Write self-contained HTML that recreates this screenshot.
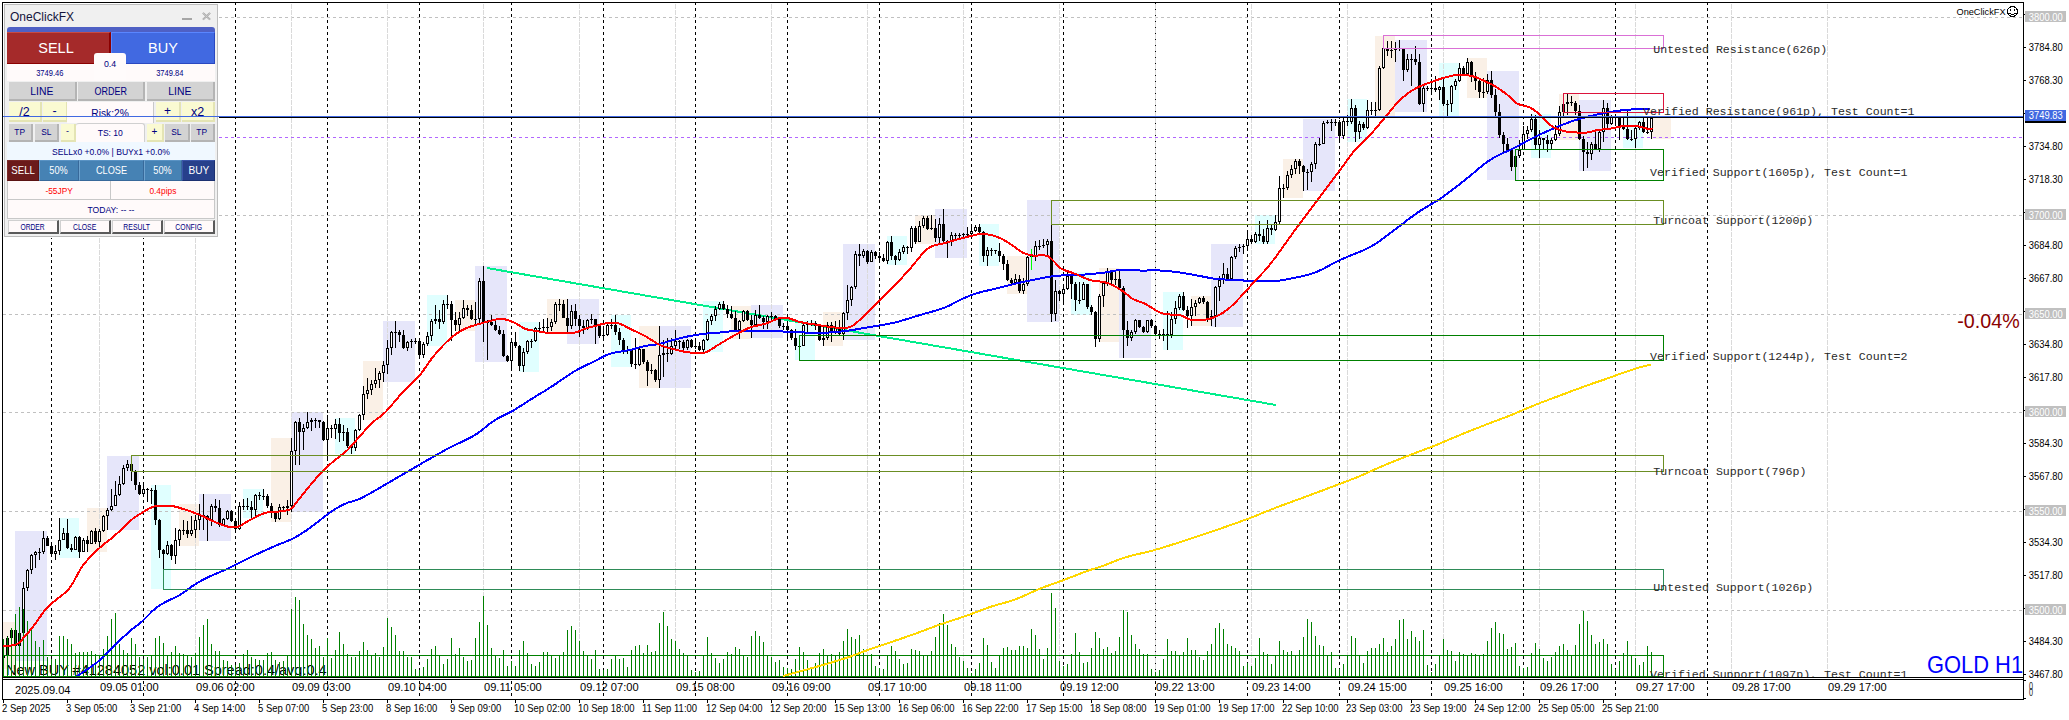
<!DOCTYPE html>
<html><head><meta charset="utf-8"><title>GOLD H1</title>
<style>
html,body{margin:0;padding:0;background:#fff;}
body{width:2069px;height:720px;overflow:hidden;position:relative;font-family:"Liberation Sans",sans-serif;}
svg{position:absolute;left:0;top:0;}
.ax{font-family:"Liberation Sans",sans-serif;font-size:10px;}
.dt{font-family:"Liberation Sans",sans-serif;}
#pn{position:absolute;left:4px;top:4px;width:212px;height:231px;background:#f0f0f0;border:1px solid #bdbdbd;box-shadow:0 0 0 1px #fff;}
#pn div{position:absolute;box-sizing:border-box;text-align:center;white-space:nowrap;overflow:hidden;}
#pn .t{left:5px;top:5px;font-size:12px;color:#14143c;text-align:left;line-height:14px;}
#pn .g{background:#d3d3d3;border-right:2px solid #b4b4b4;border-bottom:2px solid #b4b4b4;color:#000080;}
#pn .y{background:#fafad2;border-right:2px solid #e4e4b4;border-bottom:2px solid #e4e4b4;color:#000080;}
#pn .s{background:#fffafa;color:#000080;}
#pn .b{background:#4682b4;color:#fff;border-left:1px solid #6ea3cf;border-top:1px solid #5a93c4;border-right:1px solid #38699a;border-bottom:1px solid #38699a;font-size:11.5px;line-height:19px;}
#pn .w{background:#fffafa;color:#000080;border-right:2px solid #5a5a5a;border-bottom:2px solid #5a5a5a;border-left:1px solid #d0d0d0;border-top:1px solid #d0d0d0;font-size:8.6px;line-height:13px;}
#pn span{display:inline-block;transform:scaleX(var(--s,1));}

</style></head><body>
<svg width="2069" height="720" viewBox="0 0 2069 720" shape-rendering="crispEdges">
<defs><clipPath id="cp"><rect x="3" y="3" width="2020" height="674"/></clipPath></defs>
<g clip-path="url(#cp)">
<rect x="3" y="622" width="12" height="47" fill="#faf0e6"/>
<rect x="15" y="531" width="32" height="130" fill="#e6e6fa"/>
<rect x="59" y="518" width="20" height="40" fill="#e0ffff"/>
<rect x="87" y="508" width="20" height="44" fill="#faf0e6"/>
<rect x="107" y="456" width="32" height="74" fill="#e6e6fa"/>
<rect x="151" y="485" width="20" height="104" fill="#e0ffff"/>
<rect x="179" y="504" width="20" height="42" fill="#faf0e6"/>
<rect x="199" y="494" width="32" height="47" fill="#e6e6fa"/>
<rect x="243" y="489" width="20" height="29" fill="#e0ffff"/>
<rect x="271" y="438" width="20" height="84" fill="#faf0e6"/>
<rect x="291" y="412" width="32" height="100" fill="#e6e6fa"/>
<rect x="335" y="418" width="20" height="36" fill="#e0ffff"/>
<rect x="363" y="361" width="20" height="59" fill="#faf0e6"/>
<rect x="383" y="321" width="32" height="61" fill="#e6e6fa"/>
<rect x="427" y="295" width="20" height="51" fill="#e0ffff"/>
<rect x="455" y="300" width="20" height="31" fill="#faf0e6"/>
<rect x="475" y="266" width="32" height="96" fill="#e6e6fa"/>
<rect x="519" y="322" width="20" height="50" fill="#e0ffff"/>
<rect x="547" y="299" width="20" height="33" fill="#faf0e6"/>
<rect x="567" y="299" width="32" height="45" fill="#e6e6fa"/>
<rect x="611" y="315" width="20" height="52" fill="#e0ffff"/>
<rect x="639" y="326" width="20" height="62" fill="#faf0e6"/>
<rect x="659" y="326" width="32" height="62" fill="#e6e6fa"/>
<rect x="703" y="301" width="20" height="51" fill="#e0ffff"/>
<rect x="731" y="306" width="20" height="33" fill="#faf0e6"/>
<rect x="751" y="305" width="32" height="33" fill="#e6e6fa"/>
<rect x="795" y="320" width="20" height="40" fill="#e0ffff"/>
<rect x="823" y="312" width="20" height="34" fill="#faf0e6"/>
<rect x="843" y="244" width="32" height="96" fill="#e6e6fa"/>
<rect x="887" y="236" width="20" height="29" fill="#e0ffff"/>
<rect x="915" y="215" width="20" height="29" fill="#faf0e6"/>
<rect x="935" y="209" width="32" height="49" fill="#e6e6fa"/>
<rect x="979" y="224" width="20" height="42" fill="#e0ffff"/>
<rect x="1007" y="256" width="20" height="38" fill="#faf0e6"/>
<rect x="1027" y="200" width="32" height="122" fill="#e6e6fa"/>
<rect x="1071" y="272" width="20" height="43" fill="#e0ffff"/>
<rect x="1099" y="268" width="20" height="74" fill="#faf0e6"/>
<rect x="1119" y="270" width="32" height="88" fill="#e6e6fa"/>
<rect x="1163" y="292" width="20" height="58" fill="#e0ffff"/>
<rect x="1191" y="296" width="20" height="30" fill="#faf0e6"/>
<rect x="1211" y="244" width="32" height="83" fill="#e6e6fa"/>
<rect x="1255" y="215" width="20" height="29" fill="#e0ffff"/>
<rect x="1283" y="159" width="20" height="39" fill="#faf0e6"/>
<rect x="1303" y="119" width="32" height="72" fill="#e6e6fa"/>
<rect x="1347" y="99" width="20" height="43" fill="#e0ffff"/>
<rect x="1375" y="36" width="20" height="82" fill="#faf0e6"/>
<rect x="1395" y="40" width="32" height="72" fill="#e6e6fa"/>
<rect x="1439" y="63" width="20" height="53" fill="#e0ffff"/>
<rect x="1467" y="58" width="20" height="40" fill="#faf0e6"/>
<rect x="1487" y="71" width="32" height="109" fill="#e6e6fa"/>
<rect x="1531" y="114" width="20" height="44" fill="#e0ffff"/>
<rect x="1559" y="94" width="20" height="46" fill="#faf0e6"/>
<rect x="1579" y="100" width="32" height="71" fill="#e6e6fa"/>
<rect x="1623" y="110" width="20" height="38" fill="#e0ffff"/>
<rect x="1651" y="116" width="20" height="23" fill="#faf0e6"/>
<path d="M3 17.5H2023M3 215.5H2023M3 314.5H2023M3 412.5H2023M3 511.5H2023M3 610.5H2023" stroke="#c0c0c0" stroke-width="1" stroke-dasharray="3 3" fill="none"/>
<path d="M51.5 2V677M143.5 2V677M235.5 2V677M327.5 2V677M419.5 2V677M511.5 2V677M603.5 2V677M695.5 2V677M787.5 2V677M879.5 2V677M971.5 2V677M1063.5 2V677M1155.5 2V677M1247.5 2V677M1339.5 2V677M1431.5 2V677M1523.5 2V677M1615.5 2V677M1707.5 2V677" stroke="#000" stroke-width="1" stroke-dasharray="3 3" fill="none"/>
<path d="M99.5 3V677M195.5 3V677M291.5 3V677M387.5 3V677M483.5 3V677M579.5 3V677M675.5 3V677M771.5 3V677M867.5 3V677M963.5 3V677M1059.5 3V677M1155.5 3V677M1251.5 3V677M1347.5 3V677M1443.5 3V677M1539.5 3V677M1635.5 3V677M1731.5 3V677M1827.5 3V677" stroke="#dadada" stroke-width="1" stroke-dasharray="5 1" stroke-dashoffset="5" fill="none"/>
<path d="M219 137.5H2023" stroke="#b266ff" stroke-width="1" stroke-dasharray="3 3" fill="none"/>
<text x="6" y="674.5" font-family="Liberation Sans, sans-serif" font-size="14.5" fill="#000">New BUY #41284052 vol:0.01 Spread:0.4/avg:0.4</text>
<line x1="487" y1="268" x2="1276" y2="405" stroke="#00ee8c" stroke-width="2"/>
<path d="M3 650h1V669h-1zM2 655h3V658h-3zM7 636h1V657h-1zM6 638h3V655h-3zM11 628h1V639h-1zM10 630h3V638h-3zM15 622h1V661h-1zM14 630h3V646h-3zM19 632h1V648h-1zM18 633h3V646h-3zM23 582h1V633h-1zM22 588h3V633h-3zM27 569h1V591h-1zM26 570h3V588h-3zM31 554h1V574h-1zM30 555h3V570h-3zM35 551h1V568h-1zM34 552h3V555h-3zM39 548h1V560h-1zM38 552h3V553h-3zM43 531h1V554h-1zM42 538h3V552h-3zM47 536h1V546h-1zM46 538h3V546h-3zM51 545h1V555h-1zM50 546h3V554h-3zM55 545h1V560h-1zM54 551h3V554h-3zM59 518h1V555h-1zM58 540h3V551h-3zM63 528h1V540h-1zM62 533h3V540h-3zM67 519h1V549h-1zM66 533h3V548h-3zM71 544h1V552h-1zM70 548h3V550h-3zM75 536h1V550h-1zM74 537h3V550h-3zM79 536h1V558h-1zM78 537h3V552h-3zM83 538h1V552h-1zM82 540h3V552h-3zM87 536h1V552h-1zM86 540h3V544h-3zM91 530h1V544h-1zM90 531h3V544h-3zM95 528h1V544h-1zM94 531h3V542h-3zM99 529h1V547h-1zM98 531h3V542h-3zM103 515h1V532h-1zM102 516h3V531h-3zM107 508h1V530h-1zM106 510h3V516h-3zM111 489h1V511h-1zM110 506h3V510h-3zM115 481h1V506h-1zM114 495h3V506h-3zM119 476h1V496h-1zM118 484h3V495h-3zM123 465h1V485h-1zM122 468h3V484h-3zM127 460h1V471h-1zM126 464h3V468h-3zM131 456h1V481h-1zM130 464h3V471h-3zM135 470h1V490h-1zM134 471h3V485h-3zM139 482h1V495h-1zM138 485h3V494h-3zM143 482h1V495h-1zM142 489h3V494h-3zM147 488h1V502h-1zM146 489h3V490h-3zM151 488h1V504h-1zM150 490h3V491h-3zM155 485h1V525h-1zM154 490h3V520h-3zM159 519h1V558h-1zM158 520h3V550h-3zM163 549h1V589h-1zM162 550h3V554h-3zM167 541h1V555h-1zM166 545h3V554h-3zM171 544h1V560h-1zM170 545h3V556h-3zM175 528h1V564h-1zM174 540h3V556h-3zM179 529h1V546h-1zM178 530h3V540h-3zM183 520h1V535h-1zM182 530h3V531h-3zM187 521h1V538h-1zM186 530h3V534h-3zM191 516h1V536h-1zM190 530h3V534h-3zM195 515h1V538h-1zM194 520h3V530h-3zM199 504h1V530h-1zM198 515h3V520h-3zM203 494h1V530h-1zM202 515h3V516h-3zM207 515h1V541h-1zM206 516h3V520h-3zM211 504h1V526h-1zM210 506h3V520h-3zM215 499h1V512h-1zM214 506h3V508h-3zM219 500h1V527h-1zM218 508h3V525h-3zM223 518h1V526h-1zM222 519h3V525h-3zM227 510h1V520h-1zM226 511h3V519h-3zM231 510h1V522h-1zM230 511h3V521h-3zM235 518h1V532h-1zM234 521h3V529h-3zM239 502h1V530h-1zM238 506h3V529h-3zM243 499h1V510h-1zM242 506h3V507h-3zM247 498h1V510h-1zM246 506h3V507h-3zM251 501h1V518h-1zM250 507h3V510h-3zM255 494h1V516h-1zM254 495h3V510h-3zM259 492h1V500h-1zM258 495h3V496h-3zM263 489h1V500h-1zM262 496h3V497h-3zM267 494h1V508h-1zM266 496h3V506h-3zM271 503h1V518h-1zM270 506h3V513h-3zM275 512h1V522h-1zM274 513h3V519h-3zM279 504h1V520h-1zM278 507h3V519h-3zM283 506h1V510h-1zM282 507h3V508h-3zM287 500h1V515h-1zM286 506h3V508h-3zM291 438h1V512h-1zM290 451h3V506h-3zM295 421h1V465h-1zM294 422h3V451h-3zM299 418h1V465h-1zM298 422h3V432h-3zM303 424h1V450h-1zM302 428h3V432h-3zM307 412h1V429h-1zM306 422h3V428h-3zM311 418h1V431h-1zM310 420h3V422h-3zM315 418h1V428h-1zM314 420h3V421h-3zM319 420h1V428h-1zM318 420h3V422h-3zM323 421h1V441h-1zM322 422h3V440h-3zM327 415h1V460h-1zM326 428h3V440h-3zM331 425h1V438h-1zM330 428h3V429h-3zM335 419h1V439h-1zM334 424h3V429h-3zM339 418h1V442h-1zM338 424h3V433h-3zM343 425h1V441h-1zM342 432h3V433h-3zM347 428h1V448h-1zM346 432h3V446h-3zM351 444h1V454h-1zM350 446h3V448h-3zM355 429h1V451h-1zM354 430h3V448h-3zM359 414h1V431h-1zM358 415h3V430h-3zM363 386h1V420h-1zM362 394h3V415h-3zM367 378h1V399h-1zM366 390h3V394h-3zM371 380h1V395h-1zM370 384h3V390h-3zM375 368h1V388h-1zM374 380h3V384h-3zM379 371h1V388h-1zM378 373h3V380h-3zM383 361h1V382h-1zM382 365h3V373h-3zM387 340h1V374h-1zM386 348h3V365h-3zM391 331h1V355h-1zM390 332h3V348h-3zM395 321h1V348h-1zM394 332h3V333h-3zM399 330h1V342h-1zM398 332h3V335h-3zM403 330h1V349h-1zM402 335h3V348h-3zM407 341h1V351h-1zM406 342h3V348h-3zM411 339h1V348h-1zM410 341h3V342h-3zM415 338h1V344h-1zM414 341h3V342h-3zM419 340h1V359h-1zM418 341h3V355h-3zM423 342h1V358h-1zM422 344h3V355h-3zM427 332h1V346h-1zM426 336h3V344h-3zM431 319h1V341h-1zM430 321h3V336h-3zM435 305h1V324h-1zM434 319h3V321h-3zM439 310h1V329h-1zM438 319h3V322h-3zM443 300h1V324h-1zM442 304h3V322h-3zM447 295h1V309h-1zM446 304h3V305h-3zM451 301h1V341h-1zM450 304h3V320h-3zM455 312h1V331h-1zM454 320h3V325h-3zM459 312h1V331h-1zM458 318h3V325h-3zM463 300h1V319h-1zM462 308h3V318h-3zM467 305h1V316h-1zM466 308h3V310h-3zM471 305h1V320h-1zM470 310h3V319h-3zM475 302h1V324h-1zM474 319h3V320h-3zM479 278h1V324h-1zM478 281h3V319h-3zM483 266h1V342h-1zM482 281h3V322h-3zM487 320h1V360h-1zM486 322h3V323h-3zM491 315h1V326h-1zM490 322h3V325h-3zM495 321h1V331h-1zM494 325h3V330h-3zM499 326h1V335h-1zM498 330h3V334h-3zM503 330h1V357h-1zM502 334h3V356h-3zM507 355h1V362h-1zM506 356h3V361h-3zM511 341h1V370h-1zM510 342h3V361h-3zM515 332h1V348h-1zM514 342h3V346h-3zM519 345h1V371h-1zM518 346h3V366h-3zM523 348h1V372h-1zM522 352h3V366h-3zM527 340h1V354h-1zM526 341h3V352h-3zM531 339h1V348h-1zM530 341h3V342h-3zM535 327h1V342h-1zM534 328h3V341h-3zM539 322h1V331h-1zM538 328h3V329h-3zM543 319h1V332h-1zM542 327h3V328h-3zM547 318h1V332h-1zM546 327h3V328h-3zM551 319h1V331h-1zM550 322h3V327h-3zM555 302h1V324h-1zM554 304h3V322h-3zM559 299h1V311h-1zM558 304h3V305h-3zM563 300h1V318h-1zM562 304h3V318h-3zM567 299h1V332h-1zM566 318h3V326h-3zM571 305h1V329h-1zM570 311h3V326h-3zM575 304h1V326h-1zM574 311h3V319h-3zM579 315h1V337h-1zM578 319h3V326h-3zM583 320h1V334h-1zM582 326h3V328h-3zM587 319h1V330h-1zM586 320h3V328h-3zM591 314h1V324h-1zM590 319h3V320h-3zM595 319h1V344h-1zM594 319h3V326h-3zM599 325h1V338h-1zM598 326h3V336h-3zM603 329h1V340h-1zM602 335h3V336h-3zM607 324h1V336h-1zM606 325h3V335h-3zM611 319h1V329h-1zM610 325h3V326h-3zM615 315h1V335h-1zM614 325h3V332h-3zM619 328h1V345h-1zM618 332h3V340h-3zM623 338h1V354h-1zM622 340h3V350h-3zM627 346h1V354h-1zM626 350h3V351h-3zM631 350h1V367h-1zM630 350h3V364h-3zM635 338h1V369h-1zM634 364h3V365h-3zM639 348h1V366h-1zM638 349h3V365h-3zM643 349h1V364h-1zM642 349h3V362h-3zM647 360h1V386h-1zM646 362h3V371h-3zM651 364h1V374h-1zM650 370h3V371h-3zM655 369h1V382h-1zM654 370h3V380h-3zM659 326h1V388h-1zM658 355h3V380h-3zM663 340h1V377h-1zM662 353h3V355h-3zM667 338h1V362h-1zM666 353h3V354h-3zM671 338h1V355h-1zM670 346h3V354h-3zM675 330h1V349h-1zM674 341h3V346h-3zM679 340h1V349h-1zM678 341h3V342h-3zM683 340h1V350h-1zM682 342h3V348h-3zM687 339h1V350h-1zM686 340h3V348h-3zM691 339h1V348h-1zM690 340h3V347h-3zM695 341h1V349h-1zM694 346h3V347h-3zM699 342h1V351h-1zM698 346h3V350h-3zM703 339h1V352h-1zM702 340h3V350h-3zM707 319h1V341h-1zM706 321h3V340h-3zM711 314h1V325h-1zM710 316h3V321h-3zM715 306h1V321h-1zM714 309h3V316h-3zM719 302h1V310h-1zM718 304h3V309h-3zM723 301h1V310h-1zM722 304h3V309h-3zM727 305h1V318h-1zM726 309h3V314h-3zM731 306h1V319h-1zM730 314h3V318h-3zM735 311h1V332h-1zM734 318h3V330h-3zM739 320h1V339h-1zM738 321h3V330h-3zM743 310h1V322h-1zM742 311h3V321h-3zM747 310h1V321h-1zM746 311h3V320h-3zM751 315h1V338h-1zM750 320h3V325h-3zM755 310h1V326h-1zM754 315h3V325h-3zM759 305h1V319h-1zM758 315h3V318h-3zM763 316h1V329h-1zM762 318h3V322h-3zM767 315h1V329h-1zM766 316h3V322h-3zM771 312h1V320h-1zM770 316h3V317h-3zM775 315h1V320h-1zM774 316h3V319h-3zM779 318h1V328h-1zM778 319h3V326h-3zM783 323h1V330h-1zM782 326h3V327h-3zM787 322h1V341h-1zM786 326h3V330h-3zM791 329h1V340h-1zM790 330h3V338h-3zM795 329h1V350h-1zM794 338h3V346h-3zM799 342h1V360h-1zM798 346h3V347h-3zM803 322h1V346h-1zM802 325h3V346h-3zM807 321h1V332h-1zM806 324h3V325h-3zM811 320h1V326h-1zM810 323h3V324h-3zM815 321h1V330h-1zM814 323h3V326h-3zM819 325h1V341h-1zM818 326h3V340h-3zM823 325h1V346h-1zM822 338h3V340h-3zM827 322h1V340h-1zM826 325h3V338h-3zM831 322h1V342h-1zM830 325h3V332h-3zM835 321h1V334h-1zM834 327h3V332h-3zM839 320h1V335h-1zM838 327h3V334h-3zM843 312h1V340h-1zM842 313h3V334h-3zM847 285h1V320h-1zM846 300h3V313h-3zM851 286h1V306h-1zM850 287h3V300h-3zM855 251h1V289h-1zM854 254h3V287h-3zM859 244h1V266h-1zM858 254h3V256h-3zM863 249h1V258h-1zM862 251h3V256h-3zM867 250h1V264h-1zM866 251h3V262h-3zM871 250h1V262h-1zM870 252h3V262h-3zM875 251h1V259h-1zM874 252h3V256h-3zM879 252h1V260h-1zM878 256h3V258h-3zM883 254h1V262h-1zM882 258h3V261h-3zM887 241h1V264h-1zM886 242h3V261h-3zM891 236h1V260h-1zM890 242h3V256h-3zM895 255h1V265h-1zM894 256h3V260h-3zM899 249h1V261h-1zM898 252h3V260h-3zM903 245h1V254h-1zM902 247h3V252h-3zM907 246h1V254h-1zM906 247h3V248h-3zM911 226h1V252h-1zM910 228h3V248h-3zM915 226h1V244h-1zM914 228h3V242h-3zM919 221h1V242h-1zM918 226h3V242h-3zM923 216h1V228h-1zM922 218h3V226h-3zM927 216h1V230h-1zM926 218h3V229h-3zM931 215h1V230h-1zM930 228h3V229h-3zM935 219h1V242h-1zM934 228h3V238h-3zM939 218h1V244h-1zM938 224h3V238h-3zM943 209h1V243h-1zM942 224h3V241h-3zM947 240h1V258h-1zM946 241h3V242h-3zM951 232h1V246h-1zM950 235h3V241h-3zM955 233h1V240h-1zM954 235h3V236h-3zM959 233h1V240h-1zM958 235h3V236h-3zM963 233h1V238h-1zM962 234h3V235h-3zM967 227h1V238h-1zM966 234h3V235h-3zM971 225h1V236h-1zM970 231h3V234h-3zM975 225h1V232h-1zM974 227h3V231h-3zM979 224h1V234h-1zM978 227h3V232h-3zM983 231h1V262h-1zM982 232h3V256h-3zM987 247h1V266h-1zM986 250h3V256h-3zM991 248h1V256h-1zM990 250h3V251h-3zM995 250h1V254h-1zM994 250h3V251h-3zM999 243h1V262h-1zM998 251h3V256h-3zM1003 254h1V270h-1zM1002 256h3V264h-3zM1007 260h1V281h-1zM1006 264h3V280h-3zM1011 278h1V286h-1zM1010 280h3V283h-3zM1015 274h1V285h-1zM1014 279h3V283h-3zM1019 275h1V293h-1zM1018 279h3V291h-3zM1023 278h1V294h-1zM1022 284h3V291h-3zM1027 256h1V286h-1zM1026 257h3V284h-3zM1031 249h1V270h-1zM1030 256h3V257h-3zM1035 241h1V261h-1zM1034 246h3V256h-3zM1039 240h1V250h-1zM1038 246h3V247h-3zM1043 239h1V248h-1zM1042 245h3V246h-3zM1047 239h1V255h-1zM1046 241h3V245h-3zM1051 200h1V322h-1zM1050 241h3V314h-3zM1055 280h1V321h-1zM1054 291h3V314h-3zM1059 290h1V301h-1zM1058 291h3V294h-3zM1063 284h1V302h-1zM1062 289h3V294h-3zM1067 271h1V290h-1zM1066 276h3V289h-3zM1071 272h1V299h-1zM1070 276h3V284h-3zM1075 282h1V311h-1zM1074 284h3V300h-3zM1079 282h1V304h-1zM1078 300h3V301h-3zM1083 282h1V300h-1zM1082 284h3V300h-3zM1087 284h1V309h-1zM1086 284h3V307h-3zM1091 305h1V315h-1zM1090 307h3V312h-3zM1095 311h1V347h-1zM1094 312h3V339h-3zM1099 294h1V342h-1zM1098 296h3V339h-3zM1103 281h1V307h-1zM1102 283h3V296h-3zM1107 268h1V286h-1zM1106 271h3V283h-3zM1111 270h1V284h-1zM1110 271h3V280h-3zM1115 271h1V285h-1zM1114 279h3V280h-3zM1119 270h1V289h-1zM1118 279h3V288h-3zM1123 286h1V358h-1zM1122 288h3V330h-3zM1127 321h1V346h-1zM1126 330h3V338h-3zM1131 330h1V341h-1zM1130 332h3V338h-3zM1135 319h1V334h-1zM1134 320h3V332h-3zM1139 320h1V328h-1zM1138 320h3V327h-3zM1143 326h1V333h-1zM1142 327h3V332h-3zM1147 320h1V333h-1zM1146 320h3V332h-3zM1151 319h1V328h-1zM1150 320h3V326h-3zM1155 325h1V335h-1zM1154 326h3V334h-3zM1159 330h1V339h-1zM1158 334h3V335h-3zM1163 329h1V341h-1zM1162 334h3V335h-3zM1167 311h1V350h-1zM1166 334h3V335h-3zM1171 312h1V338h-1zM1170 319h3V335h-3zM1175 301h1V324h-1zM1174 308h3V319h-3zM1179 294h1V310h-1zM1178 296h3V308h-3zM1183 292h1V311h-1zM1182 296h3V310h-3zM1187 306h1V328h-1zM1186 310h3V316h-3zM1191 299h1V326h-1zM1190 307h3V316h-3zM1195 300h1V316h-1zM1194 303h3V307h-3zM1199 297h1V304h-1zM1198 298h3V303h-3zM1203 296h1V304h-1zM1202 298h3V302h-3zM1207 301h1V322h-1zM1206 302h3V318h-3zM1211 310h1V326h-1zM1210 316h3V318h-3zM1215 286h1V327h-1zM1214 287h3V316h-3zM1219 276h1V301h-1zM1218 280h3V287h-3zM1223 263h1V284h-1zM1222 274h3V280h-3zM1227 268h1V281h-1zM1226 274h3V279h-3zM1231 256h1V280h-1zM1230 257h3V279h-3zM1235 246h1V259h-1zM1234 248h3V257h-3zM1239 244h1V252h-1zM1238 247h3V248h-3zM1243 244h1V254h-1zM1242 246h3V247h-3zM1247 231h1V250h-1zM1246 239h3V246h-3zM1251 235h1V244h-1zM1250 239h3V242h-3zM1255 232h1V243h-1zM1254 234h3V242h-3zM1259 221h1V241h-1zM1258 234h3V236h-3zM1263 229h1V244h-1zM1262 236h3V242h-3zM1267 220h1V244h-1zM1266 228h3V242h-3zM1271 224h1V235h-1zM1270 228h3V230h-3zM1275 215h1V231h-1zM1274 222h3V230h-3zM1279 176h1V224h-1zM1278 188h3V222h-3zM1283 184h1V198h-1zM1282 188h3V189h-3zM1287 171h1V190h-1zM1286 175h3V188h-3zM1291 165h1V178h-1zM1290 169h3V175h-3zM1295 159h1V174h-1zM1294 161h3V169h-3zM1299 159h1V174h-1zM1298 161h3V166h-3zM1303 165h1V191h-1zM1302 166h3V172h-3zM1307 169h1V190h-1zM1306 172h3V173h-3zM1311 162h1V182h-1zM1310 164h3V172h-3zM1315 142h1V169h-1zM1314 144h3V164h-3zM1319 138h1V146h-1zM1318 144h3V145h-3zM1323 121h1V144h-1zM1322 123h3V144h-3zM1327 120h1V124h-1zM1326 122h3V123h-3zM1331 119h1V131h-1zM1330 122h3V123h-3zM1335 119h1V126h-1zM1334 122h3V123h-3zM1339 120h1V142h-1zM1338 122h3V136h-3zM1343 116h1V139h-1zM1342 121h3V136h-3zM1347 115h1V126h-1zM1346 121h3V122h-3zM1351 99h1V124h-1zM1350 108h3V122h-3zM1355 105h1V142h-1zM1354 108h3V132h-3zM1359 121h1V139h-1zM1358 124h3V132h-3zM1363 122h1V130h-1zM1362 124h3V128h-3zM1367 100h1V129h-1zM1366 110h3V128h-3zM1371 102h1V115h-1zM1370 110h3V111h-3zM1375 102h1V118h-1zM1374 110h3V111h-3zM1379 66h1V111h-1zM1378 68h3V110h-3zM1383 36h1V69h-1zM1382 48h3V68h-3zM1387 41h1V56h-1zM1386 48h3V51h-3zM1391 41h1V58h-1zM1390 50h3V51h-3zM1395 42h1V62h-1zM1394 49h3V50h-3zM1399 40h1V51h-1zM1398 48h3V49h-3zM1403 48h1V81h-1zM1402 48h3V70h-3zM1407 54h1V72h-1zM1406 59h3V70h-3zM1411 54h1V86h-1zM1410 59h3V60h-3zM1415 46h1V65h-1zM1414 59h3V62h-3zM1419 54h1V105h-1zM1418 62h3V104h-3zM1423 86h1V112h-1zM1422 88h3V104h-3zM1427 86h1V91h-1zM1426 88h3V89h-3zM1431 79h1V92h-1zM1430 88h3V89h-3zM1435 76h1V92h-1zM1434 88h3V90h-3zM1439 86h1V100h-1zM1438 87h3V90h-3zM1443 78h1V106h-1zM1442 87h3V104h-3zM1447 100h1V116h-1zM1446 104h3V105h-3zM1451 85h1V112h-1zM1450 86h3V104h-3zM1455 79h1V90h-1zM1454 81h3V86h-3zM1459 63h1V82h-1zM1458 68h3V81h-3zM1463 66h1V75h-1zM1462 68h3V74h-3zM1467 58h1V75h-1zM1466 62h3V74h-3zM1471 61h1V82h-1zM1470 62h3V76h-3zM1475 72h1V90h-1zM1474 76h3V81h-3zM1479 79h1V98h-1zM1478 81h3V92h-3zM1483 78h1V98h-1zM1482 92h3V93h-3zM1487 74h1V94h-1zM1486 80h3V92h-3zM1491 71h1V98h-1zM1490 80h3V95h-3zM1495 89h1V116h-1zM1494 95h3V112h-3zM1499 104h1V138h-1zM1498 112h3V135h-3zM1503 132h1V152h-1zM1502 135h3V144h-3zM1507 138h1V151h-1zM1506 144h3V150h-3zM1511 149h1V171h-1zM1510 150h3V167h-3zM1515 155h1V180h-1zM1514 156h3V167h-3zM1519 140h1V158h-1zM1518 150h3V156h-3zM1523 126h1V150h-1zM1522 134h3V150h-3zM1527 126h1V139h-1zM1526 130h3V134h-3zM1531 114h1V132h-1zM1530 119h3V130h-3zM1535 115h1V150h-1zM1534 119h3V145h-3zM1539 130h1V158h-1zM1538 138h3V145h-3zM1543 138h1V149h-1zM1542 138h3V140h-3zM1547 135h1V152h-1zM1546 140h3V144h-3zM1551 138h1V149h-1zM1550 140h3V144h-3zM1555 125h1V141h-1zM1554 134h3V140h-3zM1559 106h1V136h-1zM1558 112h3V134h-3zM1563 94h1V116h-1zM1562 104h3V112h-3zM1567 94h1V115h-1zM1566 102h3V104h-3zM1571 96h1V106h-1zM1570 102h3V103h-3zM1575 101h1V115h-1zM1574 103h3V111h-3zM1579 105h1V140h-1zM1578 111h3V139h-3zM1583 136h1V171h-1zM1582 139h3V152h-3zM1587 142h1V168h-1zM1586 152h3V154h-3zM1591 142h1V160h-1zM1590 144h3V154h-3zM1595 132h1V150h-1zM1594 144h3V149h-3zM1599 130h1V152h-1zM1598 132h3V149h-3zM1603 100h1V142h-1zM1602 108h3V132h-3zM1607 103h1V128h-1zM1606 108h3V124h-3zM1611 115h1V125h-1zM1610 116h3V124h-3zM1615 114h1V126h-1zM1614 116h3V117h-3zM1619 116h1V140h-1zM1618 116h3V126h-3zM1623 116h1V130h-1zM1622 126h3V129h-3zM1627 110h1V140h-1zM1626 129h3V139h-3zM1631 130h1V141h-1zM1630 139h3V140h-3zM1635 126h1V148h-1zM1634 128h3V139h-3zM1639 121h1V130h-1zM1638 122h3V128h-3zM1643 118h1V133h-1zM1642 122h3V132h-3zM1647 116h1V134h-1zM1646 132h3V133h-3zM1651 116h1V139h-1zM1650 118h3V132h-3z" fill="#000"/>
<path d="M3 656h1V657h-1zM7 639h1V654h-1zM11 631h1V637h-1zM19 634h1V645h-1zM23 589h1V632h-1zM27 571h1V587h-1zM31 556h1V569h-1zM35 553h1V554h-1zM43 539h1V551h-1zM55 552h1V553h-1zM59 541h1V550h-1zM63 534h1V539h-1zM75 538h1V549h-1zM83 541h1V551h-1zM91 532h1V543h-1zM99 532h1V541h-1zM103 517h1V530h-1zM107 511h1V515h-1zM111 507h1V509h-1zM115 496h1V505h-1zM119 485h1V494h-1zM123 469h1V483h-1zM127 465h1V467h-1zM143 490h1V493h-1zM167 546h1V553h-1zM175 541h1V555h-1zM179 531h1V539h-1zM191 531h1V533h-1zM195 521h1V529h-1zM199 516h1V519h-1zM211 507h1V519h-1zM223 520h1V524h-1zM227 512h1V518h-1zM239 507h1V528h-1zM255 496h1V509h-1zM279 508h1V518h-1zM291 452h1V505h-1zM295 423h1V450h-1zM303 429h1V431h-1zM307 423h1V427h-1zM327 429h1V439h-1zM335 425h1V428h-1zM355 431h1V447h-1zM359 416h1V429h-1zM363 395h1V414h-1zM367 391h1V393h-1zM371 385h1V389h-1zM375 381h1V383h-1zM379 374h1V379h-1zM383 366h1V372h-1zM387 349h1V364h-1zM391 333h1V347h-1zM407 343h1V347h-1zM423 345h1V354h-1zM427 337h1V343h-1zM431 322h1V335h-1zM443 305h1V321h-1zM459 319h1V324h-1zM463 309h1V317h-1zM479 282h1V318h-1zM511 343h1V360h-1zM523 353h1V365h-1zM527 342h1V351h-1zM535 329h1V340h-1zM551 323h1V326h-1zM555 305h1V321h-1zM571 312h1V325h-1zM587 321h1V327h-1zM607 326h1V334h-1zM639 350h1V364h-1zM659 356h1V379h-1zM671 347h1V353h-1zM675 342h1V345h-1zM687 341h1V347h-1zM703 341h1V349h-1zM707 322h1V339h-1zM711 317h1V320h-1zM715 310h1V315h-1zM719 305h1V308h-1zM739 322h1V329h-1zM743 312h1V320h-1zM755 316h1V324h-1zM767 317h1V321h-1zM803 326h1V345h-1zM827 326h1V337h-1zM835 328h1V331h-1zM843 314h1V333h-1zM847 301h1V312h-1zM851 288h1V299h-1zM855 255h1V286h-1zM863 252h1V255h-1zM871 253h1V261h-1zM887 243h1V260h-1zM899 253h1V259h-1zM903 248h1V251h-1zM911 229h1V247h-1zM919 227h1V241h-1zM923 219h1V225h-1zM939 225h1V237h-1zM951 236h1V240h-1zM971 232h1V233h-1zM975 228h1V230h-1zM987 251h1V255h-1zM1015 280h1V282h-1zM1023 285h1V290h-1zM1027 258h1V283h-1zM1035 247h1V255h-1zM1047 242h1V244h-1zM1055 292h1V313h-1zM1063 290h1V293h-1zM1067 277h1V288h-1zM1083 285h1V299h-1zM1099 297h1V338h-1zM1103 284h1V295h-1zM1107 272h1V282h-1zM1131 333h1V337h-1zM1135 321h1V331h-1zM1147 321h1V331h-1zM1171 320h1V334h-1zM1175 309h1V318h-1zM1179 297h1V307h-1zM1191 308h1V315h-1zM1195 304h1V306h-1zM1199 299h1V302h-1zM1215 288h1V315h-1zM1219 281h1V286h-1zM1223 275h1V279h-1zM1231 258h1V278h-1zM1235 249h1V256h-1zM1247 240h1V245h-1zM1255 235h1V241h-1zM1267 229h1V241h-1zM1275 223h1V229h-1zM1279 189h1V221h-1zM1287 176h1V187h-1zM1291 170h1V174h-1zM1295 162h1V168h-1zM1311 165h1V171h-1zM1315 145h1V163h-1zM1323 124h1V143h-1zM1343 122h1V135h-1zM1351 109h1V121h-1zM1359 125h1V131h-1zM1367 111h1V127h-1zM1379 69h1V109h-1zM1383 49h1V67h-1zM1407 60h1V69h-1zM1423 89h1V103h-1zM1439 88h1V89h-1zM1451 87h1V103h-1zM1455 82h1V85h-1zM1459 69h1V80h-1zM1467 63h1V73h-1zM1487 81h1V91h-1zM1515 157h1V166h-1zM1519 151h1V155h-1zM1523 135h1V149h-1zM1527 131h1V133h-1zM1531 120h1V129h-1zM1539 139h1V144h-1zM1551 141h1V143h-1zM1555 135h1V139h-1zM1559 113h1V133h-1zM1563 105h1V111h-1zM1591 145h1V153h-1zM1599 133h1V148h-1zM1603 109h1V131h-1zM1611 117h1V123h-1zM1635 129h1V138h-1zM1639 123h1V127h-1zM1651 119h1V131h-1z" fill="#fff"/>
<rect x="1031" y="249" width="1" height="21" fill="#00ff00"/>
<path d="M3.5 677V639M7.5 677V637M11.5 677V628M15.5 677V614M19.5 677V607M23.5 677V609M27.5 677V621M31.5 677V630M35.5 677V641M39.5 677V647M43.5 677V640M47.5 677V657M51.5 677V659M55.5 677V659M59.5 677V636M63.5 677V636M67.5 677V639M71.5 677V644M75.5 677V653M79.5 677V652M83.5 677V652M87.5 677V652M91.5 677V651M95.5 677V654M99.5 677V655M103.5 677V649M107.5 677V636M111.5 677V619M115.5 677V613M119.5 677V644M123.5 677V650M127.5 677V653M131.5 677V638M135.5 677V644M139.5 677V657M143.5 677V659M147.5 677V657M151.5 677V656M155.5 677V638M159.5 677V636M163.5 677V643M167.5 677V655M171.5 677V652M175.5 677V646M179.5 677V653M183.5 677V654M187.5 677V656M191.5 677V657M195.5 677V653M199.5 677V637M203.5 677V625M207.5 677V619M211.5 677V644M215.5 677V651M219.5 677V651M223.5 677V660M227.5 677V661M231.5 677V665M235.5 677V665M239.5 677V663M243.5 677V654M247.5 677V650M251.5 677V657M255.5 677V659M259.5 677V660M263.5 677V660M267.5 677V653M271.5 677V652M275.5 677V660M279.5 677V662M283.5 677V661M287.5 677V656M291.5 677V609M295.5 677V597M299.5 677V600M303.5 677V624M307.5 677V635M311.5 677V639M315.5 677V648M319.5 677V646M323.5 677V657M327.5 677V638M331.5 677V658M335.5 677V650M339.5 677V632M343.5 677V644M347.5 677V654M351.5 677V657M355.5 677V657M359.5 677V651M363.5 677V642M367.5 677V650M371.5 677V655M375.5 677V653M379.5 677V657M383.5 677V647M387.5 677V618M391.5 677V627M395.5 677V635M399.5 677V651M403.5 677V651M407.5 677V657M411.5 677V657M415.5 677V669M419.5 677V670M423.5 677V667M427.5 677V659M431.5 677V649M435.5 677V646M439.5 677V656M443.5 677V664M447.5 677V659M451.5 677V638M455.5 677V654M459.5 677V648M463.5 677V657M467.5 677V661M471.5 677V660M475.5 677V638M479.5 677V622M483.5 677V596M487.5 677V625M491.5 677V648M495.5 677V656M499.5 677V658M503.5 677V650M507.5 677V666M511.5 677V661M515.5 677V666M519.5 677V650M523.5 677V641M527.5 677V653M531.5 677V664M535.5 677V666M539.5 677V662M543.5 677V652M547.5 677V652M551.5 677V656M555.5 677V658M559.5 677V656M563.5 677V652M567.5 677V630M571.5 677V626M575.5 677V630M579.5 677V641M583.5 677V651M587.5 677V656M591.5 677V659M595.5 677V650M599.5 677V669M603.5 677V670M607.5 677V669M611.5 677V659M615.5 677V656M619.5 677V659M623.5 677V658M627.5 677V667M631.5 677V650M635.5 677V646M639.5 677V645M643.5 677V653M647.5 677V645M651.5 677V652M655.5 677V651M659.5 677V623M663.5 677V612M667.5 677V626M671.5 677V639M675.5 677V641M679.5 677V649M683.5 677V653M687.5 677V656M691.5 677V670M695.5 677V672M699.5 677V671M703.5 677V656M707.5 677V637M711.5 677V653M715.5 677V658M719.5 677V663M723.5 677V659M727.5 677V652M731.5 677V654M735.5 677V647M739.5 677V649M743.5 677V656M747.5 677V657M751.5 677V636M755.5 677V631M759.5 677V636M763.5 677V642M767.5 677V656M771.5 677V657M775.5 677V662M779.5 677V660M783.5 677V667M787.5 677V668M791.5 677V669M795.5 677V659M799.5 677V647M803.5 677V652M807.5 677V660M811.5 677V668M815.5 677V663M819.5 677V653M823.5 677V649M827.5 677V656M831.5 677V654M835.5 677V655M839.5 677V652M843.5 677V641M847.5 677V629M851.5 677V637M855.5 677V639M859.5 677V635M863.5 677V649M867.5 677V655M871.5 677V654M875.5 677V666M879.5 677V668M883.5 677V669M887.5 677V655M891.5 677V646M895.5 677V651M899.5 677V659M903.5 677V664M907.5 677V663M911.5 677V649M915.5 677V650M919.5 677V651M923.5 677V656M927.5 677V656M931.5 677V651M935.5 677V637M939.5 677V623M943.5 677V614M947.5 677V625M951.5 677V644M955.5 677V647M959.5 677V657M963.5 677V661M967.5 677V668M971.5 677V673M975.5 677V669M979.5 677V663M983.5 677V638M987.5 677V645M991.5 677V662M995.5 677V668M999.5 677V655M1003.5 677V648M1007.5 677V647M1011.5 677V650M1015.5 677V650M1019.5 677V646M1023.5 677V646M1027.5 677V648M1031.5 677V629M1035.5 677V635M1039.5 677V649M1043.5 677V659M1047.5 677V648M1051.5 677V593M1055.5 677V608M1059.5 677V661M1063.5 677V666M1067.5 677V664M1071.5 677V654M1075.5 677V633M1079.5 677V652M1083.5 677V663M1087.5 677V662M1091.5 677V648M1095.5 677V632M1099.5 677V638M1103.5 677V649M1107.5 677V647M1111.5 677V653M1115.5 677V651M1119.5 677V637M1123.5 677V610M1127.5 677V612M1131.5 677V635M1135.5 677V644M1139.5 677V649M1143.5 677V654M1147.5 677V654M1151.5 677V669M1155.5 677V672M1159.5 677V670M1163.5 677V659M1167.5 677V639M1171.5 677V651M1175.5 677V651M1179.5 677V656M1183.5 677V652M1187.5 677V638M1191.5 677V650M1195.5 677V650M1199.5 677V657M1203.5 677V660M1207.5 677V651M1211.5 677V644M1215.5 677V628M1219.5 677V623M1223.5 677V629M1227.5 677V644M1231.5 677V646M1235.5 677V648M1239.5 677V651M1243.5 677V666M1247.5 677V663M1251.5 677V666M1255.5 677V658M1259.5 677V638M1263.5 677V652M1267.5 677V654M1271.5 677V664M1275.5 677V656M1279.5 677V641M1283.5 677V650M1287.5 677V652M1291.5 677V651M1295.5 677V656M1299.5 677V650M1303.5 677V637M1307.5 677V619M1311.5 677V622M1315.5 677V636M1319.5 677V645M1323.5 677V646M1327.5 677V656M1331.5 677V652M1335.5 677V668M1339.5 677V669M1343.5 677V664M1347.5 677V656M1351.5 677V636M1355.5 677V638M1359.5 677V656M1363.5 677V663M1367.5 677V651M1371.5 677V648M1375.5 677V648M1379.5 677V644M1383.5 677V638M1387.5 677V652M1391.5 677V646M1395.5 677V639M1399.5 677V620M1403.5 677V619M1407.5 677V639M1411.5 677V631M1415.5 677V637M1419.5 677V641M1423.5 677V630M1427.5 677V665M1431.5 677V672M1435.5 677V664M1439.5 677V656M1443.5 677V639M1447.5 677V650M1451.5 677V651M1455.5 677V661M1459.5 677V652M1463.5 677V654M1467.5 677V655M1471.5 677V653M1475.5 677V654M1479.5 677V655M1483.5 677V654M1487.5 677V641M1491.5 677V628M1495.5 677V622M1499.5 677V633M1503.5 677V634M1507.5 677V649M1511.5 677V647M1515.5 677V643M1519.5 677V666M1523.5 677V668M1527.5 677V667M1531.5 677V653M1535.5 677V643M1539.5 677V649M1543.5 677V658M1547.5 677V661M1551.5 677V657M1555.5 677V652M1559.5 677V646M1563.5 677V644M1567.5 677V650M1571.5 677V655M1575.5 677V645M1579.5 677V624M1583.5 677V611M1587.5 677V621M1591.5 677V635M1595.5 677V644M1599.5 677V642M1603.5 677V639M1607.5 677V644M1611.5 677V664M1615.5 677V669M1619.5 677V661M1623.5 677V653M1627.5 677V641M1631.5 677V655M1635.5 677V658M1639.5 677V665M1643.5 677V662M1647.5 677V646M1651.5 677V652" stroke="#008000" stroke-width="1" fill="none"/>
<polyline points="76.0,677.0 79.0,674.9 82.0,672.9 85.0,670.8 88.0,668.8 91.0,666.7 94.0,664.6 97.0,662.4 100.0,660.0 103.1,657.2 106.2,654.0 109.4,650.7 112.5,647.5 116.0,644.1 119.5,640.7 123.0,637.4 126.5,634.2 130.0,631.0 133.1,628.4 136.2,626.0 139.4,623.6 142.5,621.0 145.6,618.0 148.8,614.7 151.9,611.5 155.0,608.8 158.1,606.5 161.2,604.5 164.4,602.7 167.5,601.0 170.6,599.4 173.8,598.1 176.9,596.7 180.0,595.0 183.1,592.9 186.2,590.6 189.4,588.2 192.5,586.0 195.5,584.1 198.5,582.3 201.5,580.6 204.5,579.0 207.5,577.5 210.8,575.9 214.2,574.5 217.5,573.1 220.8,571.7 224.2,570.3 227.5,568.8 230.7,567.2 233.9,565.6 237.1,564.0 240.4,562.3 243.6,560.7 246.8,559.1 250.0,557.5 253.1,556.0 256.2,554.5 259.4,553.1 262.5,551.6 265.6,550.2 268.8,548.8 271.9,547.4 275.0,546.0 278.3,544.6 281.7,543.3 285.0,542.0 288.3,540.6 291.7,539.2 295.0,537.5 298.5,535.5 302.0,533.3 305.5,531.0 309.0,528.5 312.5,526.0 316.0,523.4 319.5,520.6 323.0,517.8 326.5,515.0 330.0,512.5 333.0,510.5 336.0,508.6 339.0,506.8 342.0,505.2 345.0,503.8 348.0,502.6 351.0,501.7 354.0,500.9 357.0,500.0 360.0,498.8 363.1,497.2 366.2,495.5 369.2,493.9 372.3,492.1 375.4,490.4 378.5,488.6 381.5,486.8 384.6,485.0 387.7,483.2 390.8,481.4 393.8,479.6 396.9,477.8 400.0,476.0 403.2,474.2 406.3,472.4 409.5,470.5 412.7,468.7 415.8,466.8 419.0,465.0 422.2,463.1 425.3,461.3 428.5,459.5 431.7,457.7 434.8,455.8 438.0,454.0 441.2,452.3 444.3,450.5 447.5,448.8 450.6,447.1 453.6,445.6 456.7,444.2 459.7,442.8 462.8,441.4 465.8,439.9 468.9,438.4 471.9,436.8 475.0,435.0 478.3,432.8 481.7,430.3 485.0,427.6 488.3,424.9 491.7,422.3 495.0,420.0 498.5,418.0 502.0,416.2 505.5,414.5 509.0,412.9 512.5,411.0 516.0,408.9 519.5,406.7 523.0,404.5 526.5,402.2 530.0,400.0 533.2,398.0 536.4,396.0 539.6,394.0 542.9,392.1 546.1,390.1 549.3,388.1 552.5,386.0 555.7,383.9 558.9,381.7 562.1,379.5 565.4,377.2 568.6,375.1 571.8,373.0 575.0,371.0 578.3,369.1 581.7,367.4 585.0,365.8 588.3,364.2 591.7,362.6 595.0,361.0 598.0,359.5 601.0,357.8 604.0,356.3 607.0,354.9 610.0,353.8 613.3,352.8 616.7,352.2 620.0,351.6 623.3,351.2 626.7,350.6 630.0,350.0 633.0,349.3 636.0,348.4 639.0,347.5 642.0,346.7 645.0,346.0 648.0,345.5 651.0,345.1 654.0,344.7 657.0,344.3 660.0,343.8 663.0,343.0 666.0,342.2 669.0,341.2 672.0,340.3 675.0,339.5 678.0,338.7 681.0,338.0 684.0,337.3 687.0,336.6 690.0,336.0 693.0,335.5 696.0,335.0 699.0,334.5 702.0,334.1 705.0,333.8 708.0,333.4 711.0,333.2 714.0,333.0 717.0,332.7 720.0,332.5 723.0,332.2 726.0,331.8 729.0,331.5 732.0,331.2 735.0,331.0 738.3,330.9 741.7,330.8 745.0,330.8 748.3,330.8 751.7,330.8 755.0,330.8 758.3,330.7 761.7,330.7 765.0,330.6 768.3,330.6 771.7,330.7 775.0,330.8 778.1,331.0 781.2,331.3 784.4,331.7 787.5,332.0 791.0,332.2 794.5,332.3 798.0,332.3 801.5,332.4 805.0,332.5 808.0,332.6 811.0,332.8 814.0,332.9 817.0,333.0 820.0,333.0 823.1,332.9 826.2,332.7 829.4,332.5 832.5,332.3 835.6,332.0 838.8,331.7 841.9,331.4 845.0,331.0 848.1,330.6 851.2,330.2 854.4,329.7 857.5,329.2 860.6,328.6 863.8,328.1 866.9,327.5 870.0,327.0 873.1,326.5 876.2,326.0 879.4,325.5 882.5,325.0 885.6,324.4 888.8,323.8 891.9,323.2 895.0,322.5 898.1,321.7 901.2,320.8 904.4,319.9 907.5,318.9 910.6,317.9 913.8,316.9 916.9,316.0 920.0,315.0 923.1,314.1 926.2,313.2 929.4,312.4 932.5,311.5 935.6,310.6 938.8,309.6 941.9,308.6 945.0,307.5 948.0,306.2 951.0,304.7 954.0,303.1 957.0,301.5 960.0,300.0 963.0,298.6 966.0,297.3 969.0,296.0 972.0,294.8 975.0,293.8 978.3,292.8 981.7,291.9 985.0,291.1 988.3,290.3 991.7,289.6 995.0,288.8 998.3,287.9 1001.7,287.1 1005.0,286.2 1008.3,285.4 1011.7,284.5 1015.0,283.8 1018.3,283.0 1021.7,282.2 1025.0,281.5 1028.3,280.8 1031.7,280.2 1035.0,279.5 1038.3,278.8 1041.7,278.2 1045.0,277.5 1048.3,276.9 1051.7,276.4 1055.0,276.0 1058.0,275.7 1061.0,275.5 1064.0,275.4 1067.0,275.2 1070.0,275.1 1073.0,275.0 1076.0,274.9 1079.0,274.8 1082.0,274.7 1085.0,274.5 1088.3,274.2 1091.7,274.0 1095.0,273.6 1098.3,273.3 1101.7,272.9 1105.0,272.5 1108.0,272.0 1111.0,271.4 1114.0,270.8 1117.0,270.3 1120.0,270.0 1123.3,269.9 1126.7,269.9 1130.0,270.1 1133.3,270.2 1136.7,270.4 1140.0,270.5 1143.3,270.5 1146.7,270.5 1150.0,270.4 1153.3,270.4 1156.7,270.4 1160.0,270.5 1163.3,270.7 1166.7,271.0 1170.0,271.3 1173.3,271.6 1176.7,272.1 1180.0,272.5 1183.3,273.0 1186.7,273.6 1190.0,274.1 1193.3,274.8 1196.7,275.4 1200.0,276.0 1203.0,276.6 1206.0,277.2 1209.0,277.8 1212.0,278.3 1215.0,278.8 1218.3,279.1 1221.7,279.3 1225.0,279.5 1228.3,279.7 1231.7,279.8 1235.0,280.0 1238.3,280.2 1241.7,280.4 1245.0,280.6 1248.3,280.8 1251.7,280.9 1255.0,281.0 1258.3,281.1 1261.7,281.2 1265.0,281.2 1268.3,281.2 1271.7,281.2 1275.0,281.0 1278.0,280.7 1281.0,280.4 1284.0,279.9 1287.0,279.4 1290.0,278.8 1293.1,278.1 1296.2,277.5 1299.4,276.8 1302.5,276.1 1305.6,275.4 1308.8,274.5 1311.9,273.6 1315.0,272.5 1318.1,271.2 1321.2,269.8 1324.4,268.2 1327.5,266.5 1330.6,264.8 1333.8,263.1 1336.9,261.5 1340.0,260.0 1343.1,258.6 1346.2,257.3 1349.4,256.0 1352.5,254.8 1355.6,253.5 1358.8,252.2 1361.9,250.9 1365.0,249.5 1368.1,248.0 1371.2,246.3 1374.4,244.5 1377.5,242.5 1380.6,240.3 1383.8,238.0 1386.9,235.7 1390.0,233.3 1393.1,230.9 1396.2,228.5 1399.4,226.1 1402.5,223.8 1406.0,221.1 1409.5,218.5 1413.0,215.9 1416.5,213.4 1420.0,211.0 1423.3,208.9 1426.7,206.9 1430.0,204.9 1433.3,203.0 1436.7,200.9 1440.0,198.8 1443.1,196.6 1446.2,194.3 1449.4,192.0 1452.5,189.6 1455.6,187.3 1458.8,184.8 1461.9,182.4 1465.0,180.0 1468.1,177.5 1471.2,174.9 1474.4,172.3 1477.5,169.6 1480.6,167.0 1483.8,164.5 1486.9,162.1 1490.0,160.0 1493.1,158.1 1496.2,156.4 1499.4,154.8 1502.5,153.3 1505.6,151.9 1508.8,150.5 1511.9,149.0 1515.0,147.5 1518.3,145.8 1521.7,144.0 1525.0,142.2 1528.3,140.4 1531.7,138.7 1535.0,137.0 1538.0,135.5 1541.0,134.1 1544.0,132.7 1547.0,131.3 1550.0,130.0 1553.0,128.7 1556.0,127.4 1559.0,126.1 1562.0,124.9 1565.0,123.8 1568.0,122.7 1571.0,121.6 1574.0,120.6 1577.0,119.7 1580.0,118.8 1583.0,117.9 1586.0,117.1 1589.0,116.4 1592.0,115.7 1595.0,115.0 1598.0,114.3 1601.0,113.7 1604.0,113.1 1607.0,112.5 1610.0,112.0 1613.0,111.5 1616.0,111.1 1619.0,110.7 1622.0,110.3 1625.0,110.0 1628.0,109.7 1631.0,109.5 1634.0,109.3 1637.0,109.1 1640.0,109.0 1643.3,109.1 1646.7,109.3 1650,109.5" fill="none" stroke="#0000ff" stroke-width="2" stroke-linejoin="round"/>
<polyline points="2.5,646.0 5.5,645.7 8.5,645.6 11.5,645.5 14.5,645.0 17.5,644.0 21.2,640.6 25.0,636.0 28.8,631.9 32.5,627.5 35.6,623.2 38.8,618.7 41.9,614.2 45.0,610.0 48.0,606.7 51.0,604.0 54.2,601.3 57.3,598.9 60.5,596.5 63.7,593.9 66.8,591.0 70.0,587.5 73.1,582.8 76.2,576.9 79.4,571.0 82.5,566.0 86.0,561.6 89.5,557.7 93.0,554.2 96.5,550.8 100.0,547.5 103.1,544.8 106.2,542.4 109.4,540.0 112.5,537.5 115.6,534.7 118.8,531.9 121.9,528.9 125.0,526.0 128.8,522.4 132.5,519.0 135.8,516.6 139.2,514.5 142.5,512.5 146.2,510.1 150.0,508.0 153.8,506.6 157.5,505.8 160.8,505.5 164.2,505.6 167.5,505.8 172.5,506.0 175.8,506.8 179.2,507.7 182.5,508.8 186.0,509.9 189.5,511.1 193.0,512.3 196.5,513.6 200.0,515.0 203.5,516.5 207.0,518.2 210.5,520.0 214.0,521.6 217.5,523.0 221.0,524.3 224.5,525.6 228.0,526.7 231.5,527.4 235.0,527.5 238.0,526.8 241.0,525.4 244.0,523.6 247.0,521.7 250.0,520.0 253.0,518.5 256.0,516.9 259.0,515.3 262.0,514.0 265.0,513.0 268.1,512.3 271.2,512.0 274.4,511.7 277.5,511.6 280.6,511.4 283.8,511.0 286.9,510.4 290.0,509.5 293.8,506.0 297.5,501.0 300.5,497.3 303.5,493.6 306.5,489.8 309.5,486.1 312.5,482.5 315.6,478.9 318.8,475.3 321.9,471.9 325.0,468.8 328.0,466.0 331.0,463.4 334.0,460.9 337.0,458.5 340.0,456.0 343.8,453.2 347.5,450.0 350.6,446.7 353.8,443.2 356.9,439.5 360.0,436.0 363.1,432.5 366.2,429.0 369.4,425.6 372.5,422.5 375.6,419.9 378.8,417.6 381.9,415.3 385.0,412.5 388.5,408.8 392.0,404.7 395.5,400.6 399.0,396.4 402.5,392.5 406.0,388.9 409.5,385.6 413.0,382.3 416.5,378.8 420.0,375.0 423.1,370.9 426.2,366.3 429.4,361.7 432.5,357.5 436.0,353.3 439.5,349.3 443.0,345.5 446.5,342.0 450.0,338.8 453.0,336.3 456.0,334.0 459.0,332.1 462.0,330.3 465.0,328.8 468.0,327.4 471.0,326.4 474.0,325.5 477.0,324.6 480.0,323.8 483.3,322.7 486.7,321.8 490.0,321.0 493.1,320.3 496.2,319.5 499.4,319.0 502.5,319.0 505.6,319.5 508.8,320.4 511.9,321.7 515.0,323.0 518.3,324.8 521.7,327.0 525.0,328.8 528.3,329.7 531.7,330.2 535.0,330.8 538.3,331.4 541.7,332.1 545.0,332.5 548.0,332.6 551.0,332.8 554.0,332.9 557.0,333.0 560.0,333.0 563.0,333.0 566.0,333.0 569.0,332.9 572.0,332.7 575.0,332.5 578.3,331.6 581.7,330.1 585.0,328.8 588.3,327.7 591.7,326.9 595.0,326.0 598.1,325.2 601.2,324.3 604.4,323.6 607.5,323.0 610.8,322.6 614.2,322.5 617.5,323.0 620.6,324.1 623.8,325.5 626.9,327.2 630.0,328.8 633.0,330.2 636.0,331.5 639.0,333.0 642.0,334.4 645.0,336.0 648.0,337.8 651.0,339.7 654.0,341.6 657.0,343.5 660.0,345.0 663.0,346.2 666.0,347.2 669.0,348.0 672.0,348.8 675.0,349.5 678.0,350.2 681.0,351.0 684.0,351.6 687.0,352.1 690.0,352.5 693.0,352.8 696.0,353.1 699.0,353.3 702.0,353.1 705.0,352.5 708.0,351.3 711.0,349.6 714.0,347.7 717.0,345.6 720.0,343.8 723.0,342.0 726.0,340.2 729.0,338.4 732.0,336.7 735.0,335.0 738.0,333.4 741.0,331.7 744.0,330.2 747.0,328.7 750.0,327.5 753.0,326.5 756.0,325.8 759.0,325.2 762.0,324.6 765.0,323.8 768.0,322.7 771.0,321.4 774.0,320.1 777.0,318.9 780.0,318.0 783.8,317.6 787.5,318.0 790.6,318.8 793.8,319.9 796.9,321.1 800.0,322.0 803.0,322.6 806.0,323.2 809.0,323.6 812.0,324.0 815.0,324.5 818.0,325.0 821.0,325.5 824.0,326.0 827.0,326.5 830.0,327.0 835.0,327.5 838.0,327.6 841.0,327.9 844.0,328.1 847.0,327.9 850.0,327.0 853.0,325.4 856.0,323.2 859.0,320.6 862.0,317.8 865.0,315.0 868.0,312.2 871.0,309.2 874.0,306.1 877.0,303.0 880.0,300.0 883.0,297.0 886.0,294.1 889.0,291.1 892.0,288.1 895.0,285.0 898.0,281.9 901.0,278.7 904.0,275.4 907.0,272.1 910.0,268.8 913.0,265.2 916.0,261.5 919.0,257.8 922.0,254.2 925.0,251.0 928.8,247.9 932.5,246.0 935.6,245.0 938.8,244.3 941.9,243.7 945.0,243.0 948.0,242.2 951.0,241.3 954.0,240.4 957.0,239.6 960.0,238.8 963.0,238.0 966.0,237.2 969.0,236.4 972.0,235.7 975.0,235.0 978.8,234.1 982.5,233.8 985.5,234.1 988.5,234.6 991.5,235.2 994.5,236.0 997.5,237.0 1000.6,238.3 1003.8,240.0 1006.9,241.8 1010.0,243.8 1013.1,245.9 1016.2,248.3 1019.4,250.6 1022.5,252.5 1025.8,253.9 1029.2,254.9 1032.5,255.5 1035.5,255.7 1038.5,255.5 1041.5,255.4 1044.5,255.4 1047.5,256.0 1051.2,258.6 1055.0,262.5 1060.0,268.0 1063.0,269.5 1066.0,270.7 1069.0,271.7 1072.0,272.7 1075.0,273.8 1078.0,275.0 1081.0,276.4 1084.0,277.8 1087.0,279.0 1090.0,280.0 1093.5,280.8 1097.0,281.2 1100.5,281.6 1104.0,282.1 1107.5,283.0 1110.5,284.2 1113.5,285.6 1116.5,287.3 1119.5,289.1 1122.5,291.0 1125.8,293.5 1129.2,296.4 1132.5,298.8 1135.6,300.2 1138.8,301.4 1141.9,302.4 1145.0,303.8 1148.0,305.4 1151.0,307.3 1154.0,309.2 1157.0,311.0 1160.0,312.5 1163.3,313.6 1166.7,314.1 1170.0,314.5 1173.3,314.6 1176.7,314.6 1180.0,315.0 1183.3,316.4 1186.7,318.2 1190.0,319.5 1193.1,320.0 1196.2,320.3 1199.4,320.2 1202.5,320.0 1205.6,319.6 1208.8,319.0 1211.9,318.1 1215.0,317.0 1218.1,315.5 1221.2,313.8 1224.4,311.8 1227.5,309.5 1230.6,306.9 1233.8,303.9 1236.9,300.7 1240.0,297.5 1243.0,294.3 1246.0,291.0 1249.0,287.7 1252.0,284.3 1255.0,281.0 1258.1,277.7 1261.2,274.4 1264.4,271.1 1267.5,267.5 1270.6,263.6 1273.8,259.5 1276.9,255.3 1280.0,251.0 1283.0,246.9 1286.0,242.6 1289.0,238.4 1292.0,234.2 1295.0,230.0 1298.0,225.9 1301.0,221.9 1304.0,218.0 1307.0,214.0 1310.0,210.0 1313.0,206.0 1316.0,202.0 1319.0,198.0 1322.0,194.0 1325.0,190.0 1328.0,186.0 1331.0,182.0 1334.0,178.0 1337.0,174.0 1340.0,170.0 1343.0,165.9 1346.0,161.8 1349.0,157.6 1352.0,153.7 1355.0,150.0 1358.0,146.7 1361.0,143.8 1364.0,140.9 1367.0,138.1 1370.0,135.0 1373.0,131.7 1376.0,128.2 1379.0,124.6 1382.0,121.0 1385.0,117.5 1388.0,113.9 1391.0,110.2 1394.0,106.5 1397.0,103.1 1400.0,100.0 1403.0,97.3 1406.0,94.8 1409.0,92.6 1412.0,90.6 1415.0,88.8 1418.0,87.2 1421.0,85.8 1424.0,84.7 1427.0,83.6 1430.0,82.5 1433.0,81.4 1436.0,80.3 1439.0,79.3 1442.0,78.4 1445.0,77.5 1448.0,76.7 1451.0,75.9 1454.0,75.3 1457.0,74.8 1460.0,74.5 1463.1,74.5 1466.2,74.9 1469.4,75.5 1472.5,76.2 1475.6,77.2 1478.8,78.5 1481.9,79.8 1485.0,81.2 1488.3,82.8 1491.7,84.4 1495.0,86.2 1498.1,88.2 1501.2,90.4 1504.4,92.6 1507.5,95.0 1510.8,98.0 1514.2,101.2 1517.5,103.8 1520.6,105.0 1523.8,105.7 1526.9,106.4 1530.0,107.5 1533.3,109.5 1536.7,112.1 1540.0,115.0 1543.3,118.3 1546.7,121.9 1550.0,125.0 1553.3,127.1 1556.7,128.7 1560.0,130.0 1563.3,131.0 1566.7,131.6 1570.0,132.0 1573.5,132.3 1577.0,132.5 1580.5,132.7 1584.0,132.7 1587.5,132.5 1590.8,131.9 1594.2,130.8 1597.5,130.0 1600.6,129.6 1603.8,129.3 1606.9,129.1 1610.0,128.8 1613.1,128.1 1616.2,127.4 1619.4,126.7 1622.5,126.2 1625.5,126.0 1628.5,125.9 1631.5,125.9 1634.5,126.0 1637.5,126.2 1640.8,126.9 1644.2,127.9 1647.5,128.8 1652.5,129.25" fill="none" stroke="#ff0000" stroke-width="2" stroke-linejoin="round"/>
<rect x="1383.5" y="35.5" width="280.0" height="13.0" fill="none" stroke="#da70d6" stroke-width="1"/>
<rect x="1563.5" y="93.5" width="100.0" height="19.0" fill="none" stroke="#dc143c" stroke-width="1"/>
<rect x="1515.5" y="149.5" width="148.0" height="31.0" fill="none" stroke="#008000" stroke-width="1"/>
<rect x="1051.5" y="200.5" width="612.0" height="24.0" fill="none" stroke="#6b8e23" stroke-width="1"/>
<rect x="799.5" y="335.5" width="864.0" height="25.0" fill="none" stroke="#008000" stroke-width="1"/>
<rect x="131.5" y="455.5" width="1532.0" height="16.0" fill="none" stroke="#6b8e23" stroke-width="1"/>
<rect x="163.5" y="569.5" width="1500.0" height="20.0" fill="none" stroke="#2e8b57" stroke-width="1"/>
<rect x="2.5" y="655.5" width="1661.0" height="21.0" fill="none" stroke="#008000" stroke-width="1"/>
<polyline points="783.0,676.0 786.3,675.1 789.6,674.2 792.9,673.3 796.1,672.4 799.4,671.5 802.7,670.6 806.0,669.7 809.1,668.8 812.3,668.0 815.4,667.1 818.6,666.2 821.7,665.3 824.9,664.4 828.0,663.5 831.1,662.6 834.3,661.6 837.4,660.7 840.6,659.7 843.7,658.8 846.9,657.7 850.0,656.7 853.0,655.6 856.0,654.5 859.0,653.3 862.0,652.1 865.0,651.0 868.1,649.9 871.2,648.8 874.4,647.8 877.5,646.7 880.6,645.7 883.8,644.6 886.9,643.6 890.0,642.5 893.1,641.4 896.2,640.3 899.4,639.3 902.5,638.2 905.6,637.1 908.8,636.0 911.9,634.9 915.0,633.8 918.1,632.6 921.2,631.4 924.4,630.3 927.5,629.1 930.6,627.9 933.8,626.8 936.9,625.6 940.0,624.5 943.1,623.4 946.2,622.4 949.4,621.4 952.5,620.4 955.6,619.4 958.8,618.4 961.9,617.3 965.0,616.2 968.1,615.1 971.2,614.0 974.4,612.8 977.5,611.6 980.6,610.4 983.8,609.2 986.9,608.1 990.0,607.0 993.1,606.0 996.2,605.1 999.4,604.2 1002.5,603.3 1005.6,602.5 1008.8,601.6 1011.9,600.6 1015.0,599.5 1018.1,598.3 1021.2,597.0 1024.4,595.6 1027.5,594.2 1030.6,592.8 1033.8,591.4 1036.9,590.0 1040.0,588.8 1043.1,587.5 1046.2,586.3 1049.4,585.2 1052.5,584.0 1055.6,582.9 1058.8,581.8 1061.9,580.7 1065.0,579.5 1068.1,578.3 1071.2,577.1 1074.4,575.9 1077.5,574.7 1080.6,573.5 1083.8,572.3 1086.9,571.1 1090.0,570.0 1093.3,569.0 1096.7,568.0 1100.0,567.0 1103.1,565.8 1106.2,564.6 1109.4,563.4 1112.5,562.1 1115.6,560.9 1118.8,559.7 1121.9,558.5 1125.0,557.5 1128.1,556.6 1131.2,555.7 1134.4,555.0 1137.5,554.2 1140.6,553.5 1143.8,552.8 1146.9,552.1 1150.0,551.2 1153.1,550.4 1156.2,549.5 1159.4,548.6 1162.5,547.6 1165.6,546.7 1168.8,545.7 1171.9,544.7 1175.0,543.8 1178.1,542.8 1181.2,541.7 1184.4,540.7 1187.5,539.7 1190.6,538.6 1193.8,537.6 1196.9,536.5 1200.0,535.5 1203.1,534.5 1206.2,533.4 1209.4,532.4 1212.5,531.3 1215.6,530.2 1218.8,529.2 1221.9,528.1 1225.0,527.0 1228.1,525.9 1231.2,524.8 1234.4,523.7 1237.5,522.6 1240.6,521.5 1243.8,520.3 1246.9,519.2 1250.0,518.0 1253.1,516.8 1256.2,515.6 1259.4,514.3 1262.5,513.0 1265.6,511.7 1268.8,510.5 1271.9,509.2 1275.0,508.0 1278.1,506.8 1281.2,505.6 1284.4,504.5 1287.5,503.3 1290.6,502.2 1293.8,501.0 1296.9,499.9 1300.0,498.8 1303.1,497.6 1306.2,496.4 1309.4,495.3 1312.5,494.1 1315.6,493.0 1318.8,491.8 1321.9,490.7 1325.0,489.5 1328.1,488.3 1331.2,487.1 1334.4,486.0 1337.5,484.8 1340.6,483.6 1343.8,482.4 1346.9,481.2 1350.0,480.0 1353.3,478.7 1356.7,477.4 1360.0,476.0 1363.1,474.6 1366.2,473.3 1369.4,471.9 1372.5,470.5 1375.6,469.1 1378.8,467.7 1381.9,466.3 1385.0,465.0 1388.1,463.7 1391.2,462.4 1394.4,461.2 1397.5,459.9 1400.6,458.7 1403.8,457.4 1406.9,456.2 1410.0,455.0 1413.1,453.8 1416.2,452.6 1419.4,451.4 1422.5,450.3 1425.6,449.1 1428.8,447.9 1431.9,446.7 1435.0,445.5 1438.1,444.2 1441.2,442.9 1444.4,441.6 1447.5,440.3 1450.6,438.9 1453.8,437.6 1456.9,436.3 1460.0,435.0 1463.1,433.7 1466.2,432.5 1469.4,431.2 1472.5,429.9 1475.6,428.7 1478.8,427.5 1481.9,426.2 1485.0,425.0 1488.1,423.8 1491.2,422.6 1494.4,421.4 1497.5,420.3 1500.6,419.1 1503.8,417.9 1506.9,416.7 1510.0,415.5 1513.1,414.2 1516.2,412.9 1519.4,411.6 1522.5,410.2 1525.6,408.9 1528.8,407.6 1531.9,406.3 1535.0,405.0 1538.1,403.8 1541.2,402.5 1544.4,401.4 1547.5,400.2 1550.6,399.0 1553.8,397.8 1556.9,396.7 1560.0,395.5 1563.1,394.3 1566.2,393.2 1569.4,392.0 1572.5,390.8 1575.6,389.7 1578.8,388.5 1581.9,387.4 1585.0,386.2 1588.1,385.1 1591.2,384.0 1594.4,382.9 1597.5,381.8 1600.6,380.8 1603.8,379.7 1606.9,378.6 1610.0,377.5 1613.1,376.4 1616.2,375.3 1619.4,374.1 1622.5,373.0 1625.6,371.9 1628.8,370.8 1631.9,369.8 1635.0,368.8 1638.2,367.8 1641.4,366.9 1644.6,366.1 1647.8,365.3 1651,364.5" fill="none" stroke="#ffd700" stroke-width="2" stroke-linejoin="round"/>
<text x="1653.3" y="53.4" font-family="Liberation Mono, monospace" font-size="11.6" fill="#2a2a2a">Untested Resistance(626p)</text>
<text x="1643.1" y="114.7" font-family="Liberation Mono, monospace" font-size="11.6" fill="#2a2a2a">Verified Resistance(961p), Test Count=1</text>
<text x="1650.1" y="175.7" font-family="Liberation Mono, monospace" font-size="11.6" fill="#2a2a2a">Verified Support(1605p), Test Count=1</text>
<text x="1653.3" y="223.9" font-family="Liberation Mono, monospace" font-size="11.6" fill="#2a2a2a">Turncoat Support(1200p)</text>
<text x="1650.1" y="359.6" font-family="Liberation Mono, monospace" font-size="11.6" fill="#2a2a2a">Verified Support(1244p), Test Count=2</text>
<text x="1653.3" y="474.9" font-family="Liberation Mono, monospace" font-size="11.6" fill="#2a2a2a">Turncoat Support(796p)</text>
<text x="1653.3" y="590.9" font-family="Liberation Mono, monospace" font-size="11.6" fill="#2a2a2a">Untested Support(1026p)</text>
<text x="1650.1" y="677.6" font-family="Liberation Mono, monospace" font-size="11.6" fill="#2a2a2a">Verified Support(1097p), Test Count=1</text>
</g>
<path d="M2 2.5H2024M2.5 2V700M2023.5 2V700M2 677.5H2024M2 679.5H2024M2 699.5H2024" stroke="#000" stroke-width="1" fill="none"/>
<path d="M143.5 681V699M235.5 681V699M327.5 681V699M419.5 681V699M511.5 681V699M603.5 681V699M695.5 681V699M787.5 681V699M879.5 681V699M971.5 681V699M1063.5 681V699M1155.5 681V699M1247.5 681V699M1339.5 681V699M1431.5 681V699M1523.5 681V699M1615.5 681V699M1707.5 681V699" stroke="#000" stroke-width="1" stroke-dasharray="3 3" fill="none"/>
<path d="M3 116.5H2023" stroke="#4169e1" stroke-width="1"/>
<path d="M219 117.5H2023" stroke="#000" stroke-width="1"/>
<path d="M2024 47.5h2M2024 80.5h2M2024 146.5h2M2024 179.5h2M2024 245.5h2M2024 278.5h2M2024 344.5h2M2024 377.5h2M2024 443.5h2M2024 476.5h2M2024 542.5h2M2024 575.5h2M2024 641.5h2M2024 674.5h2M2024 14.5h2M2024 113.5h2M2024 212.5h2M2024 311.5h2M2024 410.5h2M2024 509.5h2M2024 608.5h2M2024 680.5h2M2024 698.5h2" stroke="#000" stroke-width="1"/>
<text transform="translate(2028.8,51.4) scale(.94,1)" class="ax">3784.80</text>
<text transform="translate(2028.8,84.4) scale(.94,1)" class="ax">3768.30</text>
<text transform="translate(2028.8,150.4) scale(.94,1)" class="ax">3734.80</text>
<text transform="translate(2028.8,183.4) scale(.94,1)" class="ax">3718.30</text>
<text transform="translate(2028.8,249.4) scale(.94,1)" class="ax">3684.80</text>
<text transform="translate(2028.8,282.4) scale(.94,1)" class="ax">3667.80</text>
<text transform="translate(2028.8,348.4) scale(.94,1)" class="ax">3634.80</text>
<text transform="translate(2028.8,381.4) scale(.94,1)" class="ax">3617.80</text>
<text transform="translate(2028.8,447.4) scale(.94,1)" class="ax">3584.30</text>
<text transform="translate(2028.8,480.4) scale(.94,1)" class="ax">3567.80</text>
<text transform="translate(2028.8,546.4) scale(.94,1)" class="ax">3534.30</text>
<text transform="translate(2028.8,579.4) scale(.94,1)" class="ax">3517.80</text>
<text transform="translate(2028.8,645.4) scale(.94,1)" class="ax">3484.30</text>
<text transform="translate(2028.8,678.4) scale(.94,1)" class="ax">3467.80</text>
<rect x="2025" y="11" width="41" height="11" fill="#c0c0c0"/>
<text transform="translate(2028.8,20.6) scale(.94,1)" class="ax" fill="#fff">3800.00</text>
<rect x="2025" y="209" width="41" height="11" fill="#c0c0c0"/>
<text transform="translate(2028.8,218.6) scale(.94,1)" class="ax" fill="#fff">3700.00</text>
<rect x="2025" y="308" width="41" height="11" fill="#c0c0c0"/>
<text transform="translate(2028.8,317.6) scale(.94,1)" class="ax" fill="#fff">3650.00</text>
<rect x="2025" y="406" width="41" height="11" fill="#c0c0c0"/>
<text transform="translate(2028.8,415.6) scale(.94,1)" class="ax" fill="#fff">3600.00</text>
<rect x="2025" y="505" width="41" height="11" fill="#c0c0c0"/>
<text transform="translate(2028.8,514.6) scale(.94,1)" class="ax" fill="#fff">3550.00</text>
<rect x="2025" y="604" width="41" height="11" fill="#c0c0c0"/>
<text transform="translate(2028.8,613.6) scale(.94,1)" class="ax" fill="#fff">3500.00</text>
<rect x="2025" y="111" width="41" height="12" fill="#000"/>
<rect x="2025" y="110" width="41" height="11" fill="#4169e1"/>
<text transform="translate(2028.8,119) scale(.94,1)" class="ax" fill="#fff">3749.83</text>
<text x="2029" y="690" class="ax" fill="#222" textLength="4" lengthAdjust="spacingAndGlyphs">0</text>
<text x="2029" y="696" class="ax" fill="#222" textLength="4" lengthAdjust="spacingAndGlyphs">0</text>
<text x="15" y="694" font-size="11.1" class="dt">2025.09.04</text>
<text x="100.0" y="690.5" font-size="11.1" class="dt">09.05 01:00</text>
<text x="196.0" y="690.5" font-size="11.1" class="dt">09.06 02:00</text>
<text x="292.0" y="690.5" font-size="11.1" class="dt">09.09 03:00</text>
<text x="388.0" y="690.5" font-size="11.1" class="dt">09.10 04:00</text>
<text x="484.0" y="690.5" font-size="11.1" class="dt">09.11 05:00</text>
<text x="580.0" y="690.5" font-size="11.1" class="dt">09.12 07:00</text>
<text x="676.0" y="690.5" font-size="11.1" class="dt">09.15 08:00</text>
<text x="772.0" y="690.5" font-size="11.1" class="dt">09.16 09:00</text>
<text x="868.0" y="690.5" font-size="11.1" class="dt">09.17 10:00</text>
<text x="964.0" y="690.5" font-size="11.1" class="dt">09.18 11:00</text>
<text x="1060.0" y="690.5" font-size="11.1" class="dt">09.19 12:00</text>
<text x="1156.0" y="690.5" font-size="11.1" class="dt">09.22 13:00</text>
<text x="1252.0" y="690.5" font-size="11.1" class="dt">09.23 14:00</text>
<text x="1348.0" y="690.5" font-size="11.1" class="dt">09.24 15:00</text>
<text x="1444.0" y="690.5" font-size="11.1" class="dt">09.25 16:00</text>
<text x="1540.0" y="690.5" font-size="11.1" class="dt">09.26 17:00</text>
<text x="1636.0" y="690.5" font-size="11.1" class="dt">09.27 17:00</text>
<text x="1732.0" y="690.5" font-size="11.1" class="dt">09.28 17:00</text>
<text x="1828.0" y="690.5" font-size="11.1" class="dt">09.29 17:00</text>
<path d="M3.5 700v3M67.5 700v3M131.5 700v3M195.5 700v3M259.5 700v3M323.5 700v3M387.5 700v3M451.5 700v3M515.5 700v3M579.5 700v3M643.5 700v3M707.5 700v3M771.5 700v3M835.5 700v3M899.5 700v3M963.5 700v3M1027.5 700v3M1091.5 700v3M1155.5 700v3M1219.5 700v3M1283.5 700v3M1347.5 700v3M1411.5 700v3M1475.5 700v3M1539.5 700v3M1603.5 700v3" stroke="#000" stroke-width="1"/>
<text transform="translate(2,712.3) scale(.95,1)" class="ax">2 Sep 2025</text>
<text transform="translate(66,712.3) scale(.95,1)" class="ax">3 Sep 05:00</text>
<text transform="translate(130,712.3) scale(.95,1)" class="ax">3 Sep 21:00</text>
<text transform="translate(194,712.3) scale(.95,1)" class="ax">4 Sep 14:00</text>
<text transform="translate(258,712.3) scale(.95,1)" class="ax">5 Sep 07:00</text>
<text transform="translate(322,712.3) scale(.95,1)" class="ax">5 Sep 23:00</text>
<text transform="translate(386,712.3) scale(.95,1)" class="ax">8 Sep 16:00</text>
<text transform="translate(450,712.3) scale(.95,1)" class="ax">9 Sep 09:00</text>
<text transform="translate(514,712.3) scale(.95,1)" class="ax">10 Sep 02:00</text>
<text transform="translate(578,712.3) scale(.95,1)" class="ax">10 Sep 18:00</text>
<text transform="translate(642,712.3) scale(.95,1)" class="ax">11 Sep 11:00</text>
<text transform="translate(706,712.3) scale(.95,1)" class="ax">12 Sep 04:00</text>
<text transform="translate(770,712.3) scale(.95,1)" class="ax">12 Sep 20:00</text>
<text transform="translate(834,712.3) scale(.95,1)" class="ax">15 Sep 13:00</text>
<text transform="translate(898,712.3) scale(.95,1)" class="ax">16 Sep 06:00</text>
<text transform="translate(962,712.3) scale(.95,1)" class="ax">16 Sep 22:00</text>
<text transform="translate(1026,712.3) scale(.95,1)" class="ax">17 Sep 15:00</text>
<text transform="translate(1090,712.3) scale(.95,1)" class="ax">18 Sep 08:00</text>
<text transform="translate(1154,712.3) scale(.95,1)" class="ax">19 Sep 01:00</text>
<text transform="translate(1218,712.3) scale(.95,1)" class="ax">19 Sep 17:00</text>
<text transform="translate(1282,712.3) scale(.95,1)" class="ax">22 Sep 10:00</text>
<text transform="translate(1346,712.3) scale(.95,1)" class="ax">23 Sep 03:00</text>
<text transform="translate(1410,712.3) scale(.95,1)" class="ax">23 Sep 19:00</text>
<text transform="translate(1474,712.3) scale(.95,1)" class="ax">24 Sep 12:00</text>
<text transform="translate(1538,712.3) scale(.95,1)" class="ax">25 Sep 05:00</text>
<text transform="translate(1602,712.3) scale(.95,1)" class="ax">25 Sep 21:00</text>
<text transform="translate(1927,673.4) scale(1,1.06)" x="0" y="0" font-family="Liberation Sans, sans-serif" font-size="21.9" fill="#0000ff">GOLD H1</text>
<text x="1957.3" y="328" font-family="Liberation Sans, sans-serif" font-size="19.7" fill="#8b0000">-0.04%</text>
<text x="1956.5" y="15" font-family="Liberation Sans, sans-serif" font-size="9.2" fill="#000">OneClickFX</text>
<g stroke="#000" fill="none" stroke-width="1"><circle cx="2012.5" cy="11.5" r="5"/><path d="M2009.8 13.2q2.7 2.6 5.4 0"/></g><rect x="2010" y="9" width="1" height="2"/><rect x="2014" y="9" width="1" height="2"/>
</svg>
<div id="pn">
<div class="t"><span style="--s:1">OneClickFX</span></div>
<div style="left:177px;top:13px;width:10px;height:2px;background:#a6a6a6"></div>
<svg style="left:197px;top:7px" width="9" height="8.5" viewBox="0 0 10 10" preserveAspectRatio="none" shape-rendering="auto"><path d="M1 1L9 9M9 1L1 9" stroke="#a0a0a0" stroke-width="2.2" fill="none"/><path d="M1 1L9 9M9 1L1 9" stroke="#f0f0f0" stroke-width=".6" fill="none"/></svg>
<div style="left:2px;top:22px;width:208px;height:6px;background:#4f60c4;border-radius:3px 3px 0 0"></div>
<div style="left:2px;top:27px;width:104px;height:32px;background:#a52a2a;border-top:1px solid #c84a44;border-right:2px solid #8b0000;border-bottom:1px solid #8b0000;color:#fff;font-size:14.5px;line-height:30px;padding-right:4px"><span style="--s:1">SELL</span></div>
<div style="left:106px;top:27px;width:104px;height:32px;background:#4169e1;border-top:1px solid #5a86ff;border-left:1px solid #5a86ff;border-right:1px solid #2a48c0;border-bottom:1px solid #2a48c0;color:#fff;font-size:14.5px;line-height:30px;"><span style="--s:1">BUY</span></div>
<div class="s" style="left:2px;top:59px;width:208px;height:17px;"></div>
<div class="s" style="left:89px;top:48px;width:32px;height:27px;border-radius:3px 3px 0 0;font-size:8.8px;line-height:23px;background:#fffbfb"><span style="--s:1">0.4</span></div>
<div class="s" style="left:15px;top:62px;width:60px;height:12px;font-size:8.2px;line-height:13px;"><span style="--s:0.92">3749.46</span></div>
<div class="s" style="left:135px;top:62px;width:60px;height:12px;font-size:8.2px;line-height:13px;"><span style="--s:0.92">3749.84</span></div>
<div class="g" style="left:4px;top:77px;width:68px;height:19px;font-size:11.5px;line-height:18px;"><span style="--s:0.9">LINE</span></div>
<div class="g" style="left:73px;top:77px;width:67px;height:19px;font-size:11.5px;line-height:18px;"><span style="--s:0.78">ORDER</span></div>
<div class="g" style="left:142px;top:77px;width:68px;height:19px;font-size:11.5px;line-height:18px;"><span style="--s:0.9">LINE</span></div>
<div class="y" style="left:4px;top:97px;width:33px;height:20px;font-size:12.5px;line-height:21px;"><span style="--s:1">/2</span></div>
<div class="y" style="left:38px;top:97px;width:25px;height:20px;font-size:12.5px;line-height:19px;"><span style="--s:1">-</span></div>
<div class="s" style="left:62px;top:97px;width:87px;height:21px;font-size:11.5px;line-height:23px;border-right:1px solid #c8c8c8"><span style="--s:0.89">Risk:2%</span></div>
<div class="y" style="left:151px;top:97px;width:25px;height:20px;font-size:12px;line-height:19px;"><span style="--s:1">+</span></div>
<div class="y" style="left:177px;top:97px;width:33px;height:20px;font-size:12.5px;line-height:21px;"><span style="--s:1">x2</span></div>
<div class="g" style="left:4px;top:119px;width:24px;height:18px;font-size:8.8px;line-height:17px;"><span style="--s:0.95">TP</span></div>
<div class="g" style="left:30px;top:119px;width:24px;height:18px;font-size:8.8px;line-height:17px;"><span style="--s:0.95">SL</span></div>
<div class="y" style="left:56px;top:119px;width:15px;height:18px;font-size:9px;line-height:15px;"><span style="--s:1">-</span></div>
<div class="s" style="left:71px;top:118px;width:69px;height:19px;font-size:9px;line-height:19px;border-radius:3px 3px 0 0;border-top:1px solid #d0d0d0;border-right:1px solid #d0d0d0"><span style="--s:0.95">TS: 10</span></div>
<div class="y" style="left:142px;top:119px;width:17px;height:18px;font-size:10px;line-height:15px;"><span style="--s:1">+</span></div>
<div class="g" style="left:160px;top:119px;width:25px;height:18px;font-size:8.8px;line-height:17px;"><span style="--s:0.95">SL</span></div>
<div class="g" style="left:186px;top:119px;width:24px;height:18px;font-size:8.8px;line-height:17px;"><span style="--s:0.95">TP</span></div>
<div style="left:2px;top:137px;width:208px;height:18px;background:#f0f8ff;color:#000080;font-size:8.6px;line-height:20px;"><span style="--s:1">SELLx0 +0.0% | BUYx1 +0.0%</span></div>
<div class="b" style="left:2px;top:155px;width:32px;height:21px;background:#6b1a1a;border-color:#7a2a28 #5a1212 #5a1212 #7a2a28;font-size:11.5px"><span style="--s:.84">SELL</span></div>
<div class="b" style="left:34px;top:155px;width:40px;height:21px;"><span style="--s:0.8">50%</span></div>
<div class="b" style="left:74px;top:155px;width:65px;height:21px;"><span style="--s:0.8">CLOSE</span></div>
<div class="b" style="left:139px;top:155px;width:38px;height:21px;"><span style="--s:0.8">50%</span></div>
<div class="b" style="left:177px;top:155px;width:33px;height:21px;background:#27408b;border-color:#3a55a8 #1c3070 #1c3070 #3a55a8;font-size:11.5px"><span style="--s:.88">BUY</span></div>
<div class="s" style="left:2px;top:176px;width:104px;height:19px;border:1px solid #c8c8c8;border-top:none;color:#ff0000;font-size:8.6px;line-height:21px;"><span style="--s:0.97">-55JPY</span></div>
<div class="s" style="left:105px;top:176px;width:105px;height:19px;border:1px solid #c8c8c8;border-top:none;color:#ff0000;font-size:8.6px;line-height:21px;"><span style="--s:0.97">0.4pips</span></div>
<div class="s" style="left:2px;top:195px;width:208px;height:19px;border:1px solid #c8c8c8;border-top:none;font-size:8.6px;line-height:20px;"><span style="--s:1">TODAY: -- --</span></div>
<div class="w" style="left:3px;top:215px;width:51px;height:14px;"><span style="--s:0.78">ORDER</span></div>
<div class="w" style="left:55px;top:215px;width:51px;height:14px;"><span style="--s:0.8">CLOSE</span></div>
<div class="w" style="left:107px;top:215px;width:51px;height:14px;"><span style="--s:0.8">RESULT</span></div>
<div class="w" style="left:159px;top:215px;width:51px;height:14px;"><span style="--s:0.8">CONFIG</span></div>
</div>
<div style="position:absolute;left:3px;top:116px;width:216px;height:1px;background:#4169e1"></div>

</body></html>
